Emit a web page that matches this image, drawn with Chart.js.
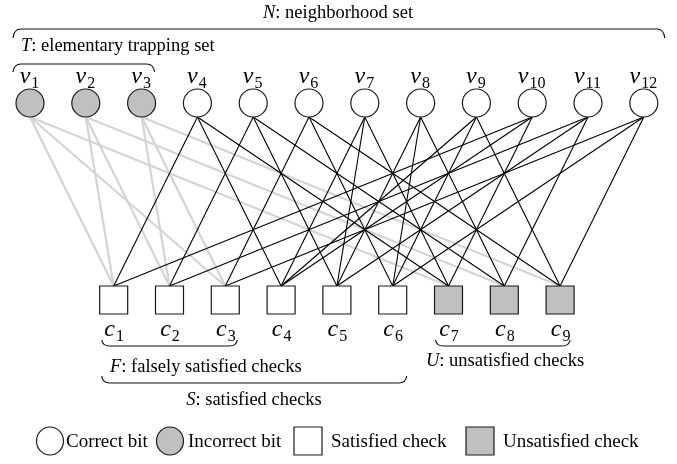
<!DOCTYPE html>
<html>
<head>
<meta charset="utf-8">
<script src="https://cdn.jsdelivr.net/npm/chart.js@4.4.1/dist/chart.umd.min.js"></script>
<style>
  html, body { margin: 0; padding: 0; background: #fff; }
  #wrap { width: 677px; height: 464px; }
</style>
</head>
<body>
<div id="wrap"><canvas id="graph"></canvas></div>
<script>
// variable nodes (bits) and check nodes
const varNames = ['v1','v2','v3','v4','v5','v6','v7','v8','v9','v10','v11','v12'];
const varWrong = [1,1,1,0,0,0,0,0,0,0,0,0];      // 1 = incorrect bit (trapping set T)
const chkNames = ['c1','c2','c3','c4','c5','c6','c7','c8','c9'];
const chkUnsat = [0,0,0,0,0,0,1,1,1];            // 1 = unsatisfied check
// checks attached to each variable (1-based)
const varChecks = [
  [1,3,7],[1,2,8],[2,3,9],
  [1,4,7],[2,5,8],[3,6,9],
  [4,5,7],[5,6,8],[4,6,9],
  [1,4,7],[2,5,8],[3,6,9]
];
const legendLabels = ['Correct bit','Incorrect bit','Satisfied check','Unsatisfied check'];

const GRAY = '#c0c0c0';
const EDGE_GRAY = '#d4d4d4';
const VAR_Y = 1, CHK_Y = 0;
const CHK_SHIFT = 1.5;            // check j sits between variables
const R_PX = 14;                  // node half size in px
const Y_PER_PX = 1 / 197;
const nodeOff = R_PX * Y_PER_PX;

const varX = i => i + 1;
const chkX = j => j + CHK_SHIFT;

// node datasets
const correctPts = [], wrongPts = [], satPts = [], unsatPts = [];
varNames.forEach((n, i) => (varWrong[i] ? wrongPts : correctPts).push({ x: varX(i), y: VAR_Y }));
chkNames.forEach((n, j) => (chkUnsat[j] ? unsatPts : satPts).push({ x: chkX(j + 1), y: CHK_Y }));

const datasets = [
  { type: 'scatter', label: legendLabels[0], data: correctPts, pointStyle: 'circle', pointRadius: R_PX,
    backgroundColor: '#fff', borderColor: '#1a1a1a', borderWidth: 1.2, order: 0 },
  { type: 'scatter', label: legendLabels[1], data: wrongPts, pointStyle: 'circle', pointRadius: R_PX,
    backgroundColor: GRAY, borderColor: '#1a1a1a', borderWidth: 1.2, order: 0 },
  { type: 'scatter', label: legendLabels[2], data: satPts, pointStyle: 'rect', pointRadius: R_PX * Math.SQRT2,
    backgroundColor: '#fff', borderColor: '#1a1a1a', borderWidth: 1.2, order: 0 },
  { type: 'scatter', label: legendLabels[3], data: unsatPts, pointStyle: 'rect', pointRadius: R_PX * Math.SQRT2,
    backgroundColor: GRAY, borderColor: '#1a1a1a', borderWidth: 1.2, order: 0 }
];

// edges
varChecks.forEach((cs, i) => {
  cs.forEach(j => {
    const wrong = varWrong[i] === 1;
    datasets.push({
      type: 'line',
      label: 'edge',
      data: [{ x: varX(i), y: VAR_Y - nodeOff }, { x: chkX(j), y: CHK_Y + nodeOff }],
      borderColor: wrong ? EDGE_GRAY : '#000',
      borderWidth: wrong ? 2.2 : 1.1,
      pointRadius: 0,
      fill: false,
      order: wrong ? 2 : 1
    });
  });
});

// draws an italic letter with a roman subscript, centred on cx
function subLabel(ctx, name, cx, base, size) {
  const main = name.charAt(0), sub = name.slice(1);
  ctx.font = 'italic ' + size + 'px "Liberation Serif"';
  const w1 = ctx.measureText(main).width;
  ctx.font = Math.round(size * 0.66) + 'px "Liberation Serif"';
  const w2 = ctx.measureText(sub).width;
  let x = cx - (w1 + w2) / 2;
  ctx.font = 'italic ' + size + 'px "Liberation Serif"';
  ctx.fillText(main, x, base);
  ctx.font = Math.round(size * 0.66) + 'px "Liberation Serif"';
  ctx.fillText(sub, x + w1 + 1, base + size * 0.2);
}

function setText(ctx, letter, rest, x, base, size, align) {
  ctx.font = 'italic ' + size + 'px "Liberation Serif"';
  const w1 = ctx.measureText(letter).width;
  ctx.font = size + 'px "Liberation Serif"';
  const w2 = ctx.measureText(rest).width;
  let x0 = align === 'center' ? x - (w1 + w2) / 2 : x;
  ctx.font = 'italic ' + size + 'px "Liberation Serif"';
  ctx.fillText(letter, x0, base);
  ctx.font = size + 'px "Liberation Serif"';
  ctx.fillText(rest, x0 + w1, base);
}

// brace: dir = 1 opens downward (above nodes), -1 opens upward (below nodes)
function brace(ctx, x1, x2, y, dir, h) {
  ctx.beginPath();
  ctx.moveTo(x1, y + dir * h);
  ctx.quadraticCurveTo(x1 + 1, y, x1 + 8, y);
  ctx.lineTo(x2 - 8, y);
  ctx.quadraticCurveTo(x2 - 1, y, x2, y + dir * h);
  ctx.stroke();
}

const annotate = {
  id: 'annotate',
  afterDraw(chart) {
    const ctx = chart.ctx;
    const xs = chart.scales.x, ys = chart.scales.y;
    ctx.save();
    ctx.fillStyle = '#000';
    ctx.strokeStyle = '#111';
    ctx.lineWidth = 1.2;
    ctx.textBaseline = 'alphabetic';
    ctx.textAlign = 'left';

    const vTop = ys.getPixelForValue(VAR_Y);
    const cTop = ys.getPixelForValue(CHK_Y);
    varNames.forEach((n, i) => subLabel(ctx, n, xs.getPixelForValue(varX(i)) - 1, vTop - 20, 24));
    chkNames.forEach((n, j) => subLabel(ctx, n, xs.getPixelForValue(chkX(j + 1)), cTop + 36, 24));

    // sets
    const px = v => xs.getPixelForValue(v);
    setText(ctx, 'N', ': neighborhood set', 338, 18, 18.5, 'center');
    brace(ctx, px(varX(0)) - 17, px(varX(11)) + 21, 29, 1, 9);
    setText(ctx, 'T', ': elementary trapping set', 21, 51, 18.5, 'left');
    brace(ctx, px(varX(0)) - 17, px(varX(2)) + 13, 64, 1, 8);

    brace(ctx, px(chkX(1)) - 12, px(chkX(3)) + 12, 346, -1, 6);
    setText(ctx, 'F', ': falsely satisfied checks', 110, 372, 18.5, 'left');
    brace(ctx, px(chkX(1)) - 12, px(chkX(6)) + 14, 383, -1, 7);
    setText(ctx, 'S', ': satisfied checks', 254, 405, 18.5, 'center');
    brace(ctx, px(chkX(7)) - 13, px(chkX(9)) + 10, 346, -1, 6);
    setText(ctx, 'U', ': unsatisfied checks', 505, 366, 18.5, 'center');

    // legend
    const ly = 441;
    ctx.lineWidth = 1.2;
    ctx.strokeStyle = '#1a1a1a';
    const items = [
      { shape: 'circle', fill: '#fff', x: 50, tx: 66 },
      { shape: 'circle', fill: GRAY, x: 170, tx: 188 },
      { shape: 'rect', fill: '#fff', x: 308, tx: 331 },
      { shape: 'rect', fill: GRAY, x: 480, tx: 503 }
    ];
    ctx.font = '19px "Liberation Serif"';
    items.forEach((it, k) => {
      ctx.beginPath();
      if (it.shape === 'circle') ctx.ellipse(it.x, ly, 13.5, 14, 0, 0, Math.PI * 2);
      else ctx.rect(it.x - 14, ly - 14, 28, 28);
      ctx.fillStyle = it.fill;
      ctx.fill();
      ctx.stroke();
      ctx.fillStyle = '#000';
      ctx.fillText(legendLabels[k], it.tx, ly + 6);
    });
    ctx.restore();
  }
};

new Chart(document.getElementById('graph'), {
  data: { datasets: datasets },
  options: {
    responsive: true,
    maintainAspectRatio: false,
    animation: false,
    events: [],
    layout: { padding: 0, autoPadding: false },
    scales: {
      x: { type: 'linear', display: false, min: 1 - 30 / 55.8, max: 1 + 647 / 55.8 },
      y: { type: 'linear', display: false, min: -164 / 197, max: 300 / 197 }
    },
    plugins: { legend: { display: false }, tooltip: { enabled: false } }
  },
  plugins: [annotate]
});
</script>
</body>
</html>
